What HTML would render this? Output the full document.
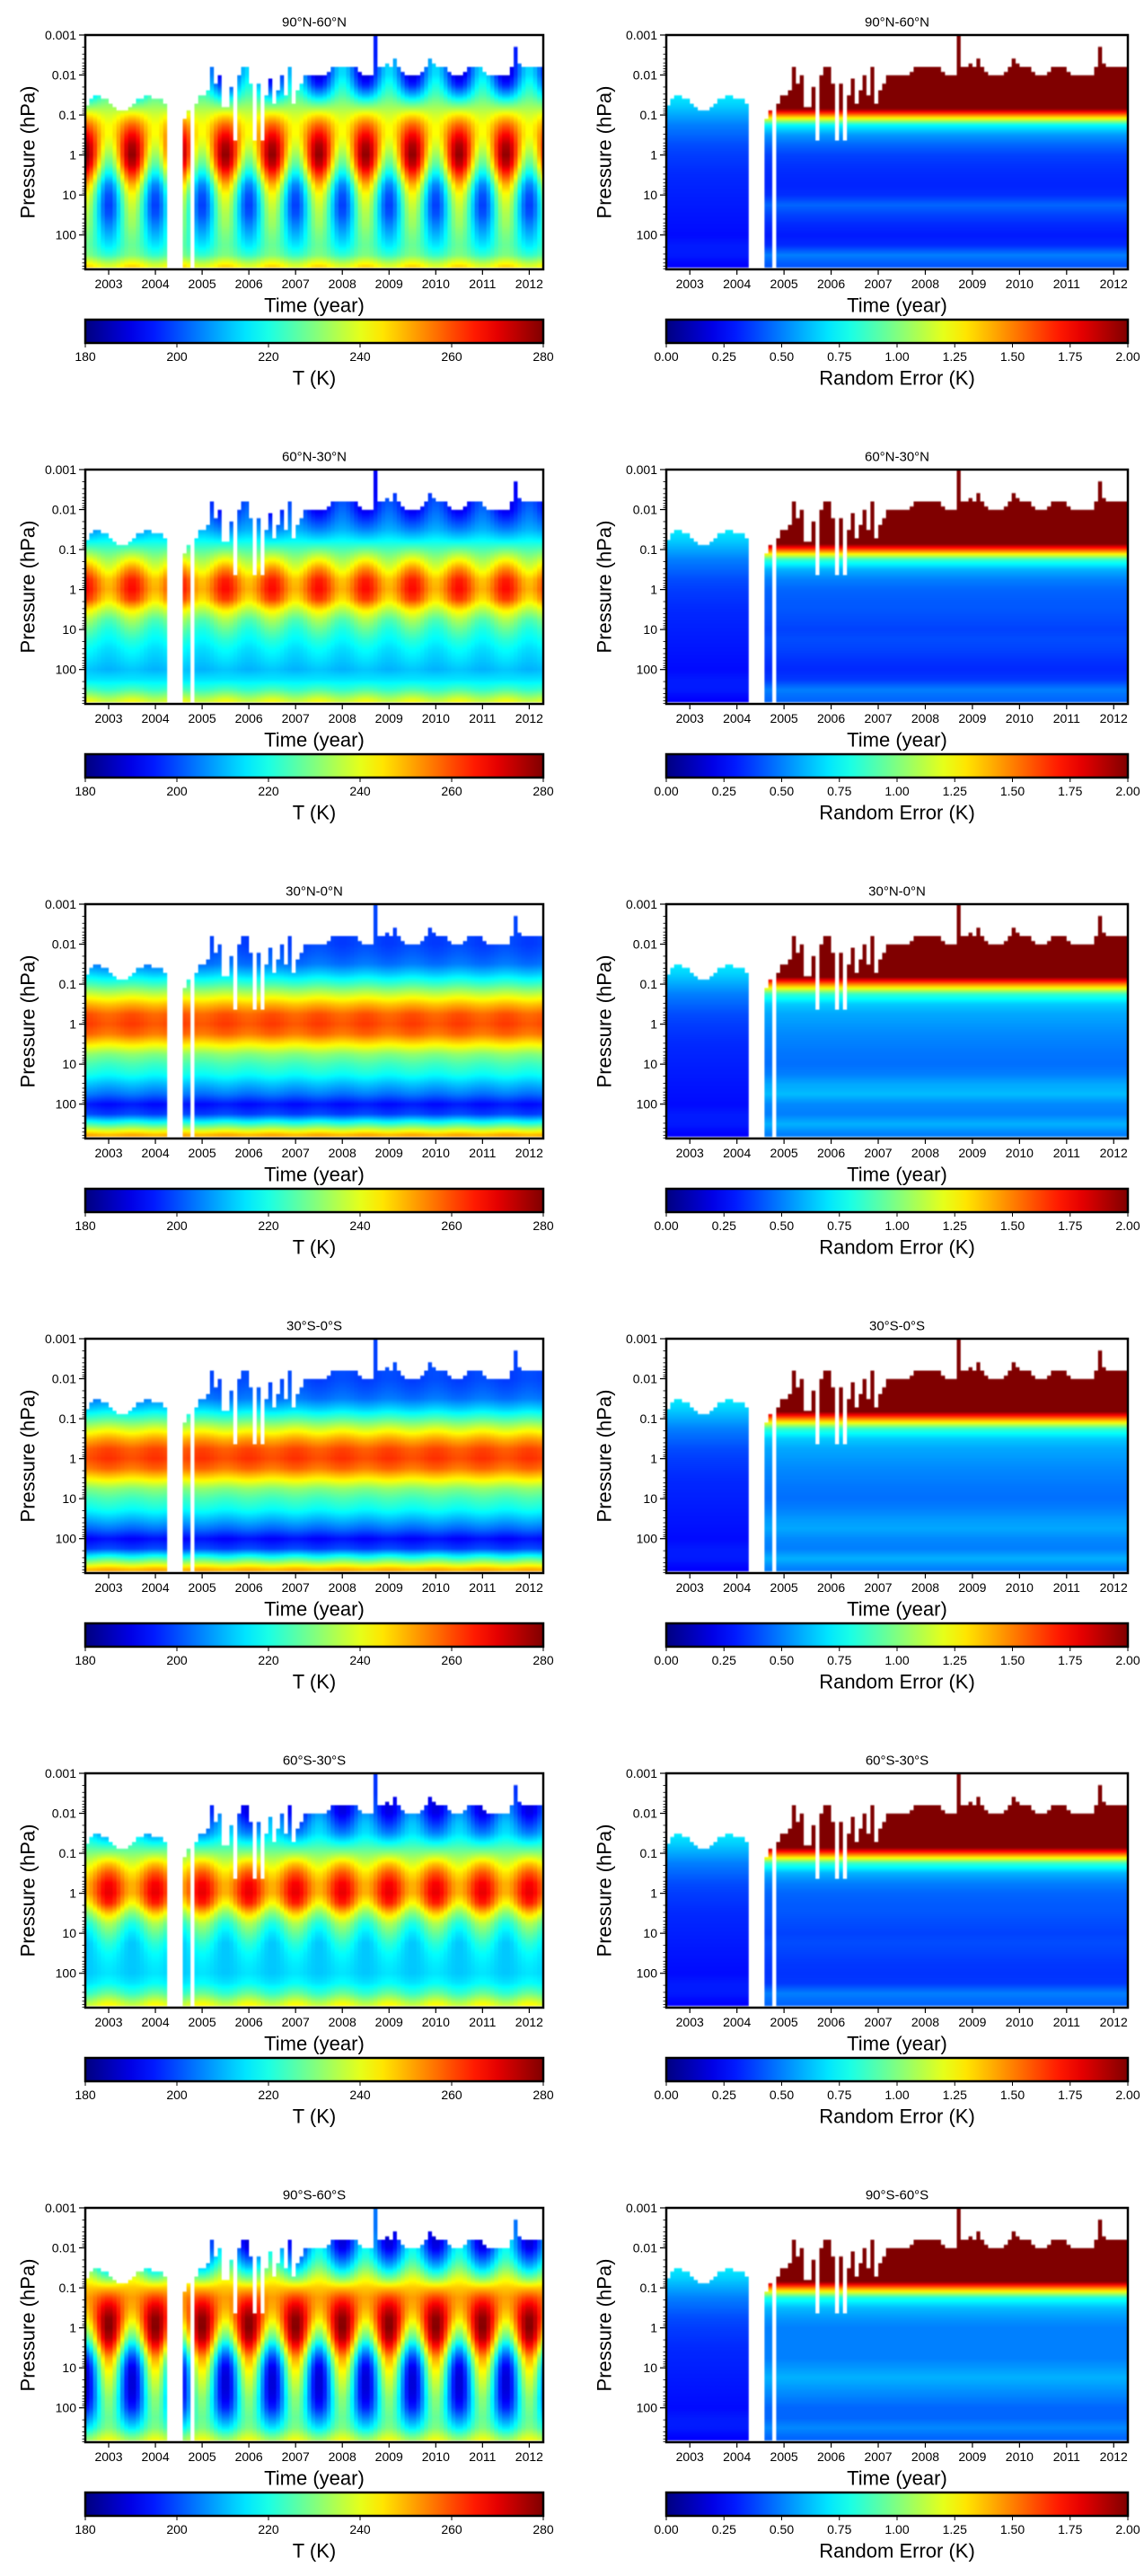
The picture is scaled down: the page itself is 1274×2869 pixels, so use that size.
<!DOCTYPE html>
<html><head><meta charset="utf-8"><title>Temperature and random error time-pressure sections</title>
<style>
html,body{margin:0;padding:0;background:#fff;}
#fig{position:relative;width:1274px;height:2869px;overflow:hidden;font-family:"Liberation Sans","DejaVu Sans",sans-serif;}
canvas{position:absolute;}
svg{position:absolute;left:0;top:0;}
</style></head>
<body>
<div id="fig">
<svg id="ov" width="1274" height="2869"></svg>
</div>
<script>
// ---- data ----
const regions = ["90°N-60°N","60°N-30°N","30°N-0°N","30°S-0°S","60°S-30°S","90°S-60°S"];
const summerPeak = [0.5,0.5,0.5,0.0,0.0,0.0];
const levelsLog = [-3,-2.5,-2,-1.75,-1.5,-1.25,-1,-0.75,-0.5,-0.25,0,0.25,0.5,0.75,1,1.25,1.5,1.75,2,2.25,2.5,2.75,2.9];
const tSummer1 = [185,185,188,195,210,228,245,258,268,276,279,274,262,250,242,238,235,233,230,228,230,245,250];
const tWinter1 = [212,212,215,220,225,232,238,242,242,238,232,225,215,205,200,198,200,205,210,215,222,238,240];
const tSummer2 = [188,188,190,197,205,215,228,242,255,265,267,262,245,235,228,222,218,215,212,215,225,240,245];
const tWinter2 = [198,198,203,206,210,217,225,233,240,248,250,245,235,225,220,217,214,212,210,215,222,235,240];
const tSummer3 = [200,200,200,202,205,214,225,238,250,260,262,258,245,232,225,220,212,205,195,200,225,250,255];
const tWinter3 = [198,198,198,200,203,212,223,236,248,257,259,255,243,230,223,218,210,203,193,198,222,248,252];
const tSummer4 = [200,200,200,202,205,214,226,240,252,261,263,258,245,232,225,220,212,204,194,200,226,250,255];
const tWinter4 = [198,198,198,200,203,212,224,237,249,258,260,255,243,230,223,218,210,202,192,198,222,248,252];
const tSummer5 = [188,188,190,197,205,218,232,248,260,268,270,265,248,235,228,222,218,216,215,218,228,242,245];
const tWinter5 = [203,203,208,212,215,222,230,238,245,250,250,242,230,220,215,212,212,212,212,215,222,235,240];
const tSummer6 = [185,185,190,200,212,228,248,262,272,279,280,276,265,252,245,240,236,232,230,228,230,240,245];
const tWinter6 = [215,215,218,222,230,240,248,252,250,245,236,225,210,198,190,188,188,190,195,205,215,230,235];
const err1 = [2.5,2.5,2.5,2.5,2.5,2.3,1.5,0.75,0.55,0.45,0.38,0.35,0.33,0.32,0.34,0.45,0.38,0.33,0.3,0.33,0.5,0.42,0.42];
const err2 = [2.5,2.5,2.5,2.5,2.5,2.3,1.6,0.85,0.6,0.5,0.45,0.43,0.42,0.4,0.38,0.4,0.38,0.35,0.33,0.36,0.5,0.45,0.45];
const err3 = [2.5,2.5,2.5,2.5,2.5,2.2,1.5,0.85,0.65,0.58,0.55,0.52,0.5,0.48,0.47,0.5,0.58,0.62,0.52,0.5,0.6,0.5,0.5];
const err4 = [2.5,2.5,2.5,2.5,2.5,2.2,1.5,0.85,0.65,0.58,0.55,0.52,0.5,0.48,0.47,0.5,0.55,0.58,0.52,0.5,0.6,0.5,0.5];
const err5 = [2.5,2.5,2.5,2.5,2.5,2.3,1.6,0.85,0.6,0.5,0.45,0.43,0.42,0.4,0.38,0.4,0.38,0.36,0.35,0.36,0.5,0.45,0.45];
const err6 = [2.5,2.5,2.5,2.5,2.5,2.3,1.5,0.8,0.62,0.55,0.5,0.5,0.5,0.5,0.55,0.6,0.55,0.5,0.45,0.45,0.52,0.45,0.45];
const errEarly = [0.72,0.72,0.72,0.72,0.72,0.66,0.58,0.5,0.45,0.4,0.37,0.35,0.33,0.32,0.31,0.3,0.29,0.28,0.27,0.3,0.3,0.25,0.25];
// monthly top-of-data log10(p), starting 2002.5 (NaN = no data)
const topLog = [
 -1.25,-1.4,-1.5,-1.5,-1.4,-1.4,
 -1.3,-1.2,-1.1,-1.1,-1.1,-1.2,-1.3,-1.4,-1.4,-1.5,-1.5,-1.4,
 -1.4,-1.4,-1.3,NaN,NaN,NaN,NaN,-0.9,-1.1,NaN,-1.3,-1.5,
 -1.5,-1.6,-2.2,-1.8,-2,-1.2,-1.2,-1.7,-0.35,-2,-2.2,-2.2,
 -1.8,-0.35,-1.8,-0.35,-1.5,-1.9,-1.3,-1.6,-2,-1.5,-2.2,-1.3,
 -1.6,-1.8,-2,-2,-2,-2,-2,-2,-2.1,-2.2,-2.2,-2.2,
 -2.2,-2.2,-2.2,-2.2,-2.1,-2,-2,-2,-3,-2.2,-2.2,-2.3,
 -2.2,-2.4,-2.2,-2.1,-2,-2,-2,-2,-2.1,-2.2,-2.4,-2.3,
 -2.2,-2.2,-2.2,-2.1,-2,-2,-2,-2.1,-2.2,-2.2,-2.2,-2.2,
 -2.1,-2,-2,-2,-2,-2,-2,-2.2,-2.7,-2.3,-2.2,-2.2,
 -2.2,-2.2,-2.2,-2.2];
const yearTicks = [2003,2004,2005,2006,2007,2008,2009,2010,2011,2012];
const pTickLabels = ["0.001","0.01","0.1","1","10","100"];
const tCbTicks = [180,200,220,240,260,280];
const eCbTicks = ["0.00","0.25","0.50","0.75","1.00","1.25","1.50","1.75","2.00"];

const tS=[tSummer1,tSummer2,tSummer3,tSummer4,tSummer5,tSummer6];
const tW=[tWinter1,tWinter2,tWinter3,tWinter4,tWinter5,tWinter6];
const errs=[err1,err2,err3,err4,err5,err6];

// ---- layout ----
const ROW=484, PT=39, PH=261;
const cols=[{x:95,w:510,ylab:31},{x:742,w:514,ylab:673}];
const T0=2002.5,T1=2012.3,LTOP=-3,LBOT=2.86;
const NS="http://www.w3.org/2000/svg";
const ov=document.getElementById('ov');
const fig=document.getElementById('fig');
function jet(x){x=Math.max(0,Math.min(1,x));const c=v=>Math.round(255*Math.max(0,Math.min(1,v)));
 return [c(1.5-Math.abs(4*x-3)),c(1.5-Math.abs(4*x-2)),c(1.5-Math.abs(4*x-1))];}
function interp(arr,l){if(l<=levelsLog[0])return arr[0];
 for(let k=1;k<levelsLog.length;k++){if(l<=levelsLog[k]){const f=(l-levelsLog[k-1])/(levelsLog[k]-levelsLog[k-1]);return arr[k-1]+f*(arr[k]-arr[k-1]);}}
 return arr[arr.length-1];}
function el(tag,attrs,parent){const e=document.createElementNS(NS,tag);for(const k in attrs)e.setAttribute(k,attrs[k]);(parent||ov).appendChild(e);return e;}
function txt(s,x,y,size,anchor,parent,extra){const t=el('text',Object.assign({x:x,y:y,'font-size':size,'text-anchor':anchor||'middle','dominant-baseline':'central',fill:'#000'},extra||{}),parent);t.textContent=s;return t;}

for(let r=0;r<6;r++){
 for(let c=0;c<2;c++){
  const C=cols[c], oy=r*ROW, px=C.x, py=oy+PT, pw=C.w;
  const sx=t=>px+(t-T0)/(T1-T0)*pw;
  const sy=l=>py+(l-LTOP)/(LBOT-LTOP)*PH;
  const nM=topLog.length, sub=3, rows=140;
  const small=document.createElement('canvas');small.width=nM*sub;small.height=rows;
  const sctx=small.getContext('2d');const img=sctx.createImageData(nM*sub,rows);
  for(let i=0;i<nM;i++){
   const t=T0+(i+0.5)/12, top=topLog[i];
   const w=(1+Math.cos(2*Math.PI*(t-summerPeak[r])))/2;
   for(let j=0;j<rows;j++){
    const l=LTOP+(j+0.5)/rows*(LBOT-LTOP);
    if(isNaN(top)||l<top||l>2.82)continue;
    let v;
    if(c===0){v=(interp(tW[r],l)+w*(interp(tS[r],l)-interp(tW[r],l))-180)/100;}
    else{v=(t<2004.4?interp(errEarly,l):interp(errs[r],l))/2;}
    const col=jet(v);
    for(let s=0;s<sub;s++){const idx=(j*nM*sub+i*sub+s)*4;img.data[idx]=col[0];img.data[idx+1]=col[1];img.data[idx+2]=col[2];img.data[idx+3]=255;}
   }
  }
  sctx.putImageData(img,0,0);
  const cv=document.createElement('canvas');cv.width=pw;cv.height=PH;
  cv.style.left=px+'px';cv.style.top=py+'px';
  
  
  const ctx=cv.getContext('2d');ctx.imageSmoothingEnabled=true;
  ctx.drawImage(small,0,0,nM*sub,rows,sx(T0)-px,0,sx(T0+nM/12)-sx(T0),PH);
  fig.insertBefore(cv,ov);
  const g=el('g',{});
  
  
  const tt=txt(regions[r],px+pw/2,oy+25,15,'middle',g);
  
  for(let d=-3;d<=2;d++){
   const y=sy(d);
   el('line',{x1:px-7,x2:px,y1:y,y2:y,stroke:'#000','stroke-width':1.2},g);
   const lab=txt(pTickLabels[d+3],px-10,y,14,'end',g);
   
   for(let k=2;k<10;k++){const lm=d+Math.log10(k);if(lm>LBOT)break;const ym=sy(lm);
    el('line',{x1:px-3.5,x2:px,y1:ym,y2:ym,stroke:'#000','stroke-width':0.8},g);}
  }
  for(const yr of yearTicks){const x=sx(yr);
   el('line',{x1:x,x2:x,y1:py+PH,y2:py+PH+6,stroke:'#000','stroke-width':1.2},g);
   const lab=txt(String(yr),x,oy+316,14,'middle',g);
   }
  el('rect',{x:px,y:py,width:pw,height:PH,fill:'none',stroke:'#000','stroke-width':2.5},g);
  const yl=txt('Pressure (hPa)',0,0,22,'middle',g,{transform:'translate('+C.ylab+','+(py+PH/2)+') rotate(-90)'});
  
  const xl=txt('Time (year)',px+pw/2,oy+340,22,'middle',g);
  
  const gid='cbg'+r+'_'+c;
  const defs=el('defs',{},g);const lg=el('linearGradient',{id:gid,x1:0,x2:1,y1:0,y2:0},defs);
  for(let s=0;s<=20;s++){const col=jet(s/20);el('stop',{offset:(s/20),'stop-color':'rgb('+col.join(',')+')'},lg);}
  const cbY=oy+356,cbH=26;
  const cb=el('rect',{x:px,y:cbY,width:pw,height:cbH,fill:'url(#'+gid+')',stroke:'#000','stroke-width':2.5},g);
  
  const ticks=c===0?tCbTicks:eCbTicks;
  ticks.forEach((tv,k)=>{const x=px+k/(ticks.length-1)*pw;
   el('line',{x1:x,x2:x,y1:cbY+cbH,y2:cbY+cbH+5,stroke:'#000','stroke-width':1},g);
   const lab=txt(String(tv),x,oy+397,14,'middle',g);
   });
  const cl=txt(c===0?'T (K)':'Random Error (K)',px+pw/2,oy+421,22,'middle',g);
  
 }
}
</script>
</body></html>
